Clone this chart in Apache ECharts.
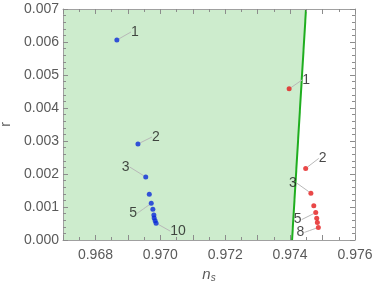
<!DOCTYPE html>
<html>
<head>
<meta charset="utf-8">
<script src="https://cdn.jsdelivr.net/npm/echarts@6/dist/echarts.min.js"></script>
<style>html,body{margin:0;padding:0;background:#fff;}#c{width:374px;height:289px;}</style>
</head>
<body>
<div id="c"></div>
<script>
// ---- data ----
const xMin = 0.967, xMax = 0.976;
const yMin = 0, yMax = 0.007;
const xTickLabels = [0.968, 0.970, 0.972, 0.974, 0.976];
const yTickLabels = [0, 0.001, 0.002, 0.003, 0.004, 0.005, 0.006, 0.007];
const blueNs = [0.96866, 0.96931, 0.96955, 0.96966, 0.96972, 0.96977, 0.96980, 0.96981, 0.96984, 0.96987];
const blueR  = [0.00606, 0.00291, 0.00191, 0.00139, 0.00111, 0.00093, 0.00076, 0.00067, 0.00058, 0.00051];
const blueLabels = ['1', '2', '3', '', '5', '', '', '', '', '10'];
const redNs = [0.97397, 0.97448, 0.97464, 0.97473, 0.97479, 0.97482, 0.97484, 0.97487];
const redR  = [0.00458, 0.00217, 0.00142, 0.00104, 0.00083, 0.00066, 0.00053, 0.00038];
const redLabels = ['1', '2', '3', '', '5', '', '', '8'];
const boundaryNs = [0.97406, 0.97449];
const boundaryR  = [0, 0.007];

// ---- label offsets (layout only) ----
const blueOffsets = {0: [18, -8], 1: [18, -7], 2: [-20, -10], 4: [-18, 10], 9: [22, 8]};
const redOffsets  = {0: [17, -9], 1: [17, -10], 2: [-18, -10], 4: [-18, 7], 7: [-18, 5]};

const frame = '#a0a0a0';
const tickColor = '#8c8c8c';
const labelColor = '#5a5a5a';
const font = 'Liberation Sans, Arial, sans-serif';

function pts(xs, ys) { return xs.map((x, i) => [x, ys[i]]); }

function makeScatter(name, xs, ys, labels, offsets, color) {
  return {
    type: 'scatter', name: name, xAxisIndex: 0, yAxisIndex: 0,
    symbolSize: 5, z: 5,
    itemStyle: {color: color},
    data: xs.map((x, i) => ({
      value: [x, ys[i]],
      label: {show: labels[i] !== '', formatter: labels[i]}
    })),
    label: {position: 'inside', color: '#1a1a1a', fontSize: 14, fontFamily: font},
    labelLine: {show: true, smooth: 0.6, lineStyle: {color: '#b8b8b8', width: 1}},
    labelLayout: function (p) {
      const o = offsets[p.dataIndex];
      if (!o) return {};
      return {dx: o[0], dy: o[1]};
    },
    emphasis: {disabled: true}
  };
}

const option = {
  animation: false,
  grid: {left: 63, right: 19, top: 9, bottom: 49, containLabel: false, outerBoundsMode: 'none'},
  xAxis: [
    {type: 'value', min: xMin, max: xMax, interval: 0.001, position: 'bottom', z: 10,
      axisLine: {show: true, onZero: false, lineStyle: {color: frame}},
      axisTick: {show: true, inside: true, length: 5, lineStyle: {color: tickColor}},
      minorTick: {show: true, splitNumber: 2, length: 3, lineStyle: {color: tickColor}},
      axisLabel: {show: true, customValues: xTickLabels, formatter: v => v.toFixed(3),
        color: labelColor, fontSize: 14, fontFamily: font, margin: 8},
      splitLine: {show: false},
      name: '{n|n}{s|s}', nameLocation: 'middle', nameGap: 27,
      nameTextStyle: {rich: {
        n: {fontSize: 15, fontStyle: 'italic', color: labelColor, fontFamily: font},
        s: {fontSize: 10, fontStyle: 'italic', color: labelColor, fontFamily: font, verticalAlign: 'bottom', padding: [6, 0, 0, 0]}
      }}},
    {type: 'value', min: xMin, max: xMax, interval: 0.001, position: 'top', z: 10,
      axisLine: {show: true, onZero: false, lineStyle: {color: frame}},
      axisTick: {show: true, inside: true, length: 5, lineStyle: {color: tickColor}},
      minorTick: {show: true, splitNumber: 2, length: 3, lineStyle: {color: tickColor}},
      axisLabel: {show: false}, splitLine: {show: false}}
  ],
  yAxis: [
    {type: 'value', min: yMin, max: yMax, interval: 0.001, position: 'left', z: 10,
      axisLine: {show: true, onZero: false, lineStyle: {color: frame}},
      axisTick: {show: true, inside: true, length: 5, lineStyle: {color: tickColor}},
      minorTick: {show: true, splitNumber: 5, length: 3, lineStyle: {color: tickColor}},
      axisLabel: {customValues: yTickLabels, formatter: v => v.toFixed(3), color: labelColor, fontSize: 14, fontFamily: font, margin: 4},
      splitLine: {show: false},
      name: 'r', nameLocation: 'middle', nameGap: 47,
      nameTextStyle: {color: labelColor, fontSize: 14, fontFamily: font}},
    {type: 'value', min: yMin, max: yMax, interval: 0.001, position: 'right', z: 10,
      axisLine: {show: true, onZero: false, lineStyle: {color: frame}},
      axisTick: {show: true, inside: true, length: 5, lineStyle: {color: tickColor}},
      minorTick: {show: true, splitNumber: 5, length: 3, lineStyle: {color: tickColor}},
      splitLine: {show: false}, axisLabel: {show: false}}
  ],
  series: [
    {
      type: 'custom', xAxisIndex: 0, yAxisIndex: 0, z: 1, silent: true,
      data: [0],
      renderItem: function (params, api) {
        const b0 = api.coord([boundaryNs[0], boundaryR[0]]);
        const b1 = api.coord([boundaryNs[1], boundaryR[1]]);
        const l0 = api.coord([xMin, boundaryR[0]]);
        const l1 = api.coord([xMin, boundaryR[1]]);
        return {type: 'polygon', shape: {points: [l0, b0, b1, l1]}, style: {fill: '#cdeccd', stroke: null}};
      }
    },
    {
      type: 'line', xAxisIndex: 0, yAxisIndex: 0, z: 3, silent: true,
      data: pts(boundaryNs, boundaryR), symbol: 'none',
      lineStyle: {color: '#1fae1f', width: 2}
    },
    makeScatter('blue', blueNs, blueR, blueLabels, blueOffsets, '#0a2ad8'),
    makeScatter('red', redNs, redR, redLabels, redOffsets, '#e41a1a')
  ]
};

const chart = echarts.init(document.getElementById('c'));
chart.setOption(option);
</script>
</body>
</html>
